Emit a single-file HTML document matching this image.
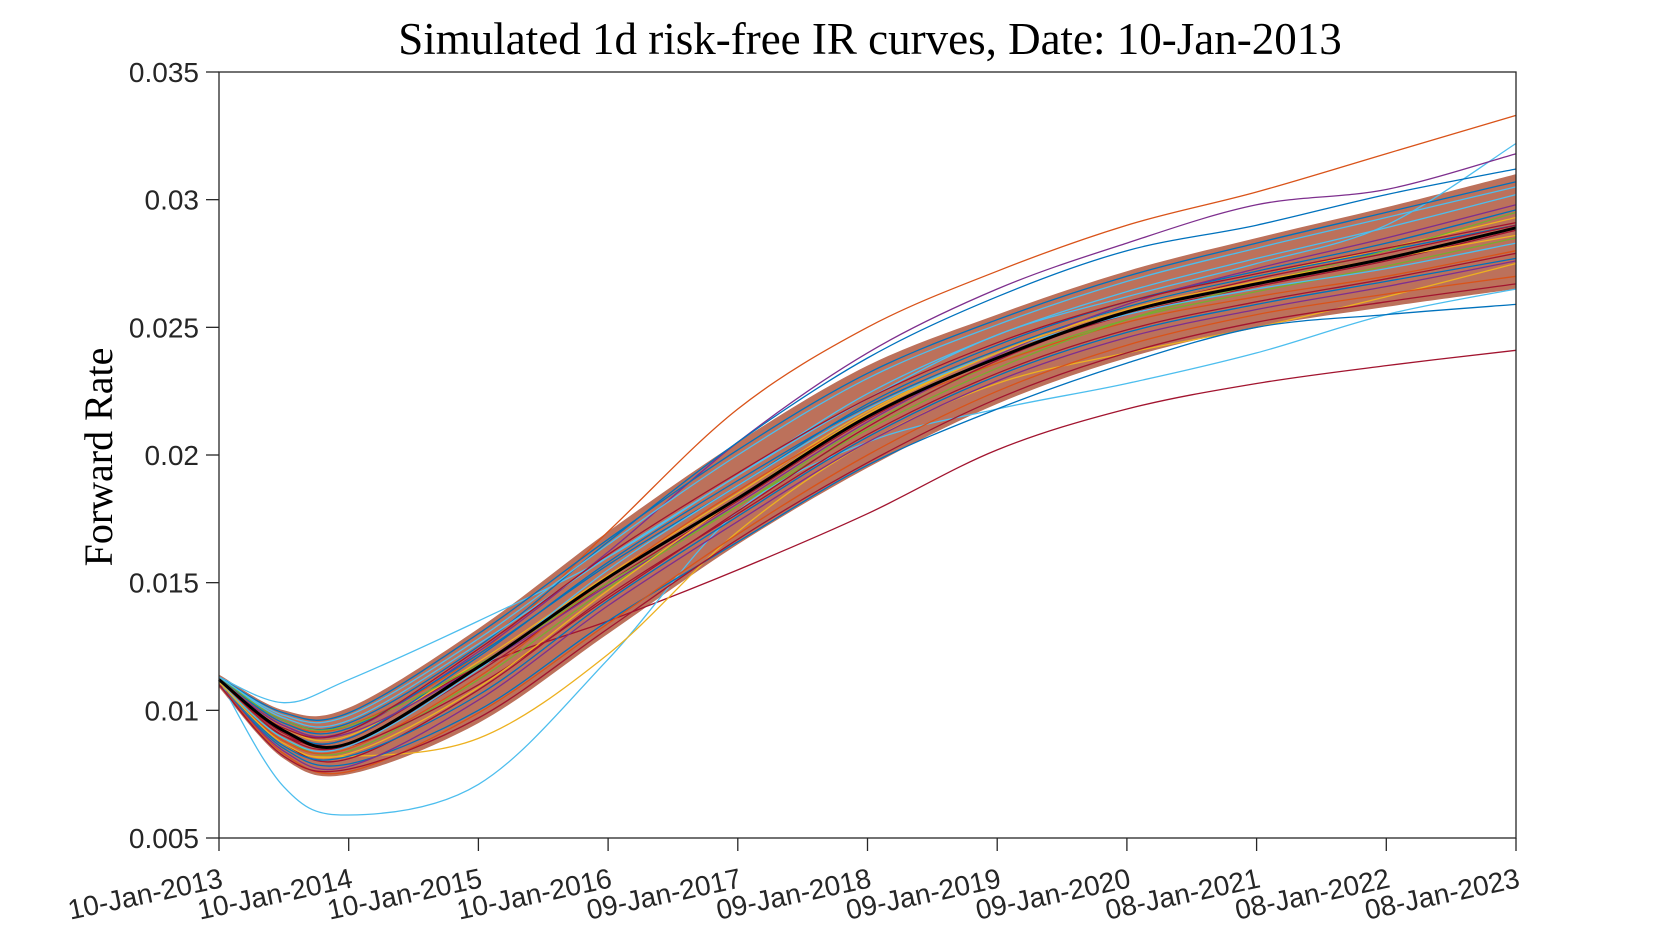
<!DOCTYPE html>
<html><head><meta charset="utf-8"><style>
body{margin:0;background:#fff;width:1680px;height:943px;overflow:hidden}
svg{display:block}
</style></head><body>
<svg id="chart" width="1680" height="943" xmlns="http://www.w3.org/2000/svg">
<text x="870" y="54" text-anchor="middle" font-family="'Liberation Serif',serif" font-size="45">Simulated 1d risk-free IR curves, Date: 10-Jan-2013</text>
<text transform="translate(112,457) rotate(-90)" text-anchor="middle" font-family="'Liberation Serif',serif" font-size="40">Forward Rate</text>
<g id="band"></g><g id="curves"></g><g id="axes"></g>
</svg>
<script>
const years=[0,0.5,1,2,3,4,5,6,7,8,9,10];
const xTickLabels=["10-Jan-2013","10-Jan-2014","10-Jan-2015","10-Jan-2016","09-Jan-2017","09-Jan-2018","09-Jan-2019","09-Jan-2020","08-Jan-2021","08-Jan-2022","08-Jan-2023"];
const yTicks=[0.005,0.01,0.015,0.02,0.025,0.03,0.035];
const yTickLabels=["0.005","0.01","0.015","0.02","0.025","0.03","0.035"];
const bandUpper=[0.0114,0.0100,0.0101,0.0132,0.0170,0.0205,0.0235,0.0255,0.0272,0.0285,0.0297,0.0310];
const bandLower=[0.0109,0.0081,0.0075,0.0095,0.0130,0.0165,0.0195,0.0220,0.0238,0.0250,0.0258,0.0265];
const meanCurve=[0.0112,0.0092,0.0087,0.0117,0.0152,0.0183,0.0215,0.0238,0.0256,0.0267,0.0277,0.0289];
const curves=[
[0.0112,0.0095,0.0094,0.0122,0.0170,0.0218,0.0250,0.0272,0.0290,0.0303,0.0318,0.0333],
[0.0110,0.0090,0.0089,0.0117,0.0135,0.0155,0.0177,0.0202,0.0218,0.0228,0.0235,0.0241],
[0.0112,0.0070,0.0059,0.0071,0.0120,0.0178,0.0205,0.0218,0.0228,0.0240,0.0255,0.0265],
[0.0113,0.0103,0.0112,0.0135,0.0160,0.0192,0.0222,0.0247,0.0262,0.0275,0.0290,0.0322],
[0.0111,0.0086,0.0082,0.0089,0.0122,0.0170,0.0205,0.0228,0.0240,0.0250,0.0262,0.0275],
[0.0112,0.0094,0.0092,0.0123,0.0162,0.0205,0.0240,0.0265,0.0283,0.0298,0.0304,0.0318],
[0.0113,0.0096,0.0095,0.0125,0.0166,0.0205,0.0238,0.0262,0.0280,0.0290,0.0302,0.0312],
[0.0110,0.0085,0.0079,0.0100,0.0135,0.0166,0.0196,0.0218,0.0236,0.0250,0.0255,0.0259],
[0.0111,0.0089,0.0084,0.0112,0.0148,0.0180,0.0212,0.0236,0.0253,0.0264,0.0274,0.0285],
[0.0113,0.0095,0.0093,0.0122,0.0157,0.0188,0.0220,0.0243,0.0260,0.0272,0.0283,0.0296],
[0.0111,0.0087,0.0081,0.0108,0.0145,0.0177,0.0208,0.0232,0.0249,0.0260,0.0269,0.0279],
[0.0112,0.0093,0.0090,0.0119,0.0153,0.0185,0.0217,0.0240,0.0258,0.0270,0.0281,0.0293],
[0.0110,0.0084,0.0078,0.0104,0.0141,0.0174,0.0205,0.0229,0.0246,0.0257,0.0266,0.0276],
[0.0113,0.0097,0.0096,0.0126,0.0160,0.0192,0.0224,0.0247,0.0264,0.0277,0.0289,0.0302],
[0.0112,0.0091,0.0087,0.0115,0.0150,0.0182,0.0214,0.0238,0.0255,0.0266,0.0276,0.0288],
[0.0111,0.0088,0.0085,0.0113,0.0152,0.0186,0.0215,0.0236,0.0252,0.0262,0.0270,0.0280],
[0.0112,0.0092,0.0089,0.0121,0.0158,0.0190,0.0219,0.0241,0.0258,0.0270,0.0280,0.0290],
[0.0110,0.0083,0.0076,0.0099,0.0134,0.0169,0.0200,0.0225,0.0243,0.0255,0.0263,0.0270],
[0.0113,0.0096,0.0094,0.0118,0.0150,0.0180,0.0210,0.0234,0.0253,0.0267,0.0280,0.0295],
[0.0112,0.0090,0.0086,0.0110,0.0144,0.0178,0.0211,0.0237,0.0256,0.0269,0.0279,0.0290],
[0.0111,0.0089,0.0086,0.0116,0.0155,0.0188,0.0218,0.0240,0.0255,0.0265,0.0273,0.0283],
[0.0112,0.0094,0.0091,0.0117,0.0149,0.0181,0.0213,0.0239,0.0259,0.0273,0.0285,0.0298],
[0.0111,0.0086,0.0082,0.0106,0.0143,0.0176,0.0207,0.0231,0.0248,0.0259,0.0268,0.0277],
[0.0112,0.0093,0.0092,0.0124,0.0161,0.0193,0.0222,0.0244,0.0260,0.0271,0.0281,0.0291],
[0.0111,0.0087,0.0083,0.0109,0.0147,0.0183,0.0216,0.0240,0.0257,0.0268,0.0277,0.0286],
[0.0113,0.0099,0.0099,0.0130,0.0167,0.0202,0.0232,0.0253,0.0270,0.0283,0.0295,0.0307],
[0.0110,0.0082,0.0077,0.0097,0.0132,0.0167,0.0197,0.0222,0.0240,0.0252,0.0260,0.0267],
[0.0113,0.0098,0.0098,0.0128,0.0165,0.0200,0.0230,0.0251,0.0268,0.0281,0.0293,0.0305]
];
const curveColors=["#D95319","#A2142F","#4DBEEE","#4DBEEE","#EDB120","#7E2F8E","#0072BD","#0072BD","#77AC30","#0072BD","#A2142F","#EDB120","#7E2F8E","#4DBEEE","#A2142F","#D95319","#0072BD","#D95319","#77AC30","#A2142F","#4DBEEE","#7E2F8E","#0072BD","#A2142F","#EDB120","#0072BD","#A2142F","#4DBEEE"];

const X0=219,X1=1516,Y0=838,Y1=72;
const xs=t=>X0+(X1-X0)*t/10;
const ys=v=>Y0-(Y0-Y1)*(v-0.005)/0.03;
const NS="http://www.w3.org/2000/svg";
function pts(arr){return arr.map((v,i)=>[xs(years[i]),ys(v)]);}
function spline(p){let d="M"+p[0][0].toFixed(1)+","+p[0][1].toFixed(1);
 for(let i=0;i<p.length-1;i++){const a=p[i-1]||p[i],b=p[i],c=p[i+1],e=p[i+2]||c;
  const c1=[b[0]+(c[0]-a[0])/6,b[1]+(c[1]-a[1])/6],c2=[c[0]-(e[0]-b[0])/6,c[1]-(e[1]-b[1])/6];
  d+=" C"+c1.map(n=>n.toFixed(1))+" "+c2.map(n=>n.toFixed(1))+" "+c[0].toFixed(1)+","+c[1].toFixed(1);}
 return d;}
const band=document.getElementById('band');
const bp=document.createElementNS(NS,'path');
const lowerRev=pts(bandLower).reverse();
let dl=spline(lowerRev).replace(/^M/,' L');
bp.setAttribute('d',spline(pts(bandUpper))+dl+' Z');
bp.setAttribute('fill','#b0583e');bp.setAttribute('opacity','0.85');


band.appendChild(bp);
const cg=document.getElementById('curves');
curves.forEach((c,i)=>{const p=document.createElementNS(NS,'path');
 p.setAttribute('d',spline(pts(c)));p.setAttribute('fill','none');p.setAttribute('stroke',curveColors[i]);p.setAttribute('stroke-width','1.3');
 
 
 cg.appendChild(p);});
const m=document.createElementNS(NS,'path');
m.setAttribute('d',spline(pts(meanCurve)));m.setAttribute('fill','none');m.setAttribute('stroke','#000');m.setAttribute('stroke-width','3');


cg.appendChild(m);
const ax=document.getElementById('axes');
let h='<rect x="'+X0+'" y="'+Y1+'" width="'+(X1-X0)+'" height="'+(Y0-Y1)+'" fill="none" stroke="#262626" stroke-width="1.3"/>';
yTicks.forEach((v,i)=>{const y=ys(v);
 h+='<line x1="'+(X0-13)+'" x2="'+X0+'" y1="'+y+'" y2="'+y+'" stroke="#262626" stroke-width="1.3"/>';
 h+='<text x="'+(X0-20)+'" y="'+(y+10)+'" text-anchor="end" font-family="\'Liberation Sans\',sans-serif" font-size="28" fill="#262626">'+yTickLabels[i]+'</text>';});
xTickLabels.forEach((l,i)=>{const x=xs(i);
 h+='<line x1="'+x+'" x2="'+x+'" y1="'+Y0+'" y2="'+(Y0+13)+'" stroke="#262626" stroke-width="1.3"/>';
 h+='<text transform="translate('+(x+5)+',887) rotate(-12)" text-anchor="end" font-family="\'Liberation Sans\',sans-serif" font-size="28" fill="#262626">'+l+'</text>';});
ax.innerHTML=h;
</script>
</body></html>
